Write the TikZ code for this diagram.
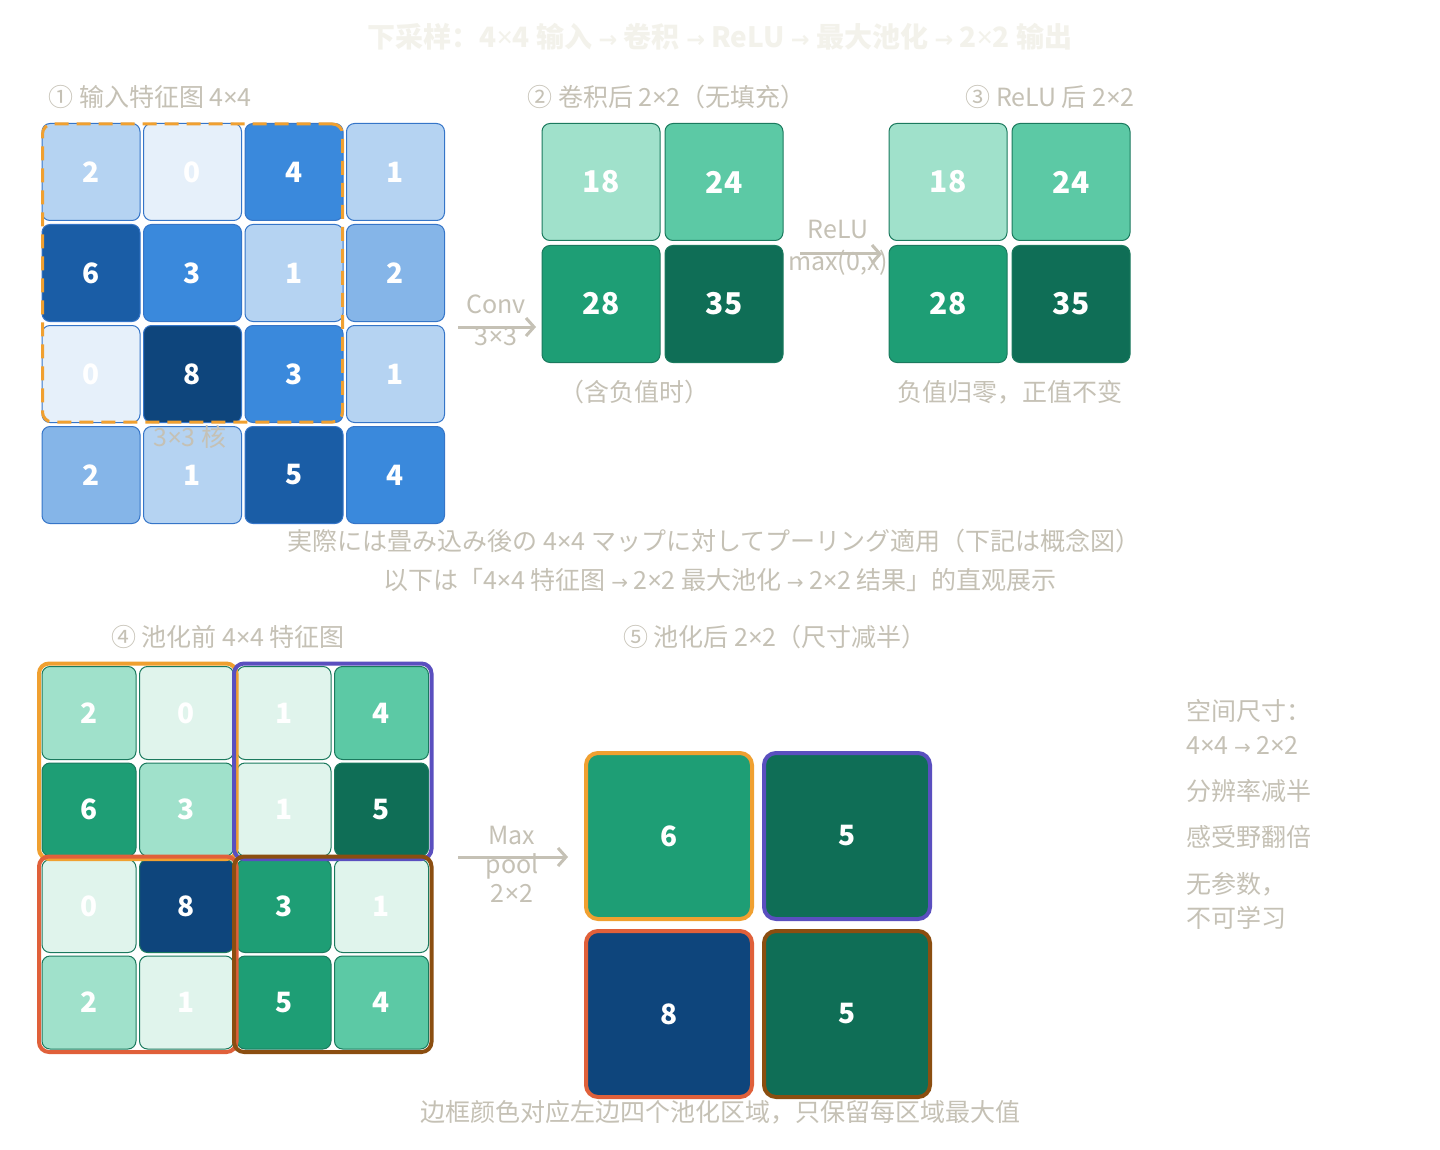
\documentclass[tikz,border=0pt]{standalone}
\usepackage{fontspec}
\setmainfont{Noto Sans CJK SC}
\newfontfamily\jpfont{Noto Sans CJK JP}
\newfontfamily\latinfont{Noto Sans}
\newfontfamily\symfont{DejaVu Sans}
\newcommand{\tms}{{\latinfont ×}}
\newcommand{\rarr}{{\symfont\scalebox{0.8}{→}}}
\usepackage{tikz}
\usetikzlibrary{
	arrows.meta,
	positioning,
	fit
}

\definecolor{txtgray}{HTML}{C5C1B5}
\definecolor{ttlgray}{HTML}{F3F2EB}
\definecolor{blueA}{HTML}{E6F0FA}
\definecolor{blueB}{HTML}{B5D3F2}
\definecolor{blueC}{HTML}{85B5E8}
\definecolor{blueD}{HTML}{3A89DC}
\definecolor{blueE}{HTML}{1A5DA6}
\definecolor{blueF}{HTML}{0E457C}
\definecolor{blueline}{HTML}{3575C8}
\definecolor{greenA}{HTML}{E0F4EC}
\definecolor{greenB}{HTML}{A0E1CB}
\definecolor{greenC}{HTML}{5CC9A5}
\definecolor{greenD}{HTML}{1E9E75}
\definecolor{greenE}{HTML}{0F6E56}
\definecolor{greenline}{HTML}{1B7A5E}
\definecolor{kernorange}{HTML}{F0A030}
\definecolor{regpurple}{HTML}{5A4FBF}
\definecolor{regred}{HTML}{E0603A}
\definecolor{regbrown}{HTML}{8B4E10}

\begin{document}
\begin{tikzpicture}[x=0.5pt, y=-0.5pt,
				incell/.style={
					rectangle, draw=blueline, rounded corners=4pt, line width=0.5pt,
					minimum width=49pt, minimum height=48.5pt, inner sep=0pt,
					text=white, font=\fontsize{14}{14}\selectfont\bfseries
				},
				convcell/.style={
					incell, draw=greenline,
					minimum width=59pt, minimum height=58.5pt,
					font=\fontsize{15}{15}\selectfont\bfseries
				},
				poolcell/.style={
					incell, draw=greenline,
					minimum width=47pt, minimum height=46.5pt
				},
				outcell/.style={
					incell, line width=2pt, rounded corners=6pt,
					minimum width=83pt, minimum height=83pt
				},
				region/.style={
					rectangle, draw, line width=2pt, rounded corners=5pt, inner sep=1.25pt
				},
				kernel/.style={
					rectangle, draw=kernorange, line width=1.5pt, rounded corners=5pt,
					dash pattern=on 7pt off 4pt, inner sep=-0.5pt
				},
				label/.style={
					text=txtgray, font=\fontsize{12.5}{15}\selectfont, inner sep=0pt
				},
				arrow/.style={-{Straight Barb[length=4pt,width=9pt]}, line width=1.5pt, draw=txtgray},
				]
				
				\fill[white] (0,0) rectangle (1440,1150);
				\useasboundingbox (0,0) rectangle (1440,1150);
				
				\node[font=\fontsize{14}{16}\selectfont\bfseries, text=ttlgray] (title) at (720,37)
					{下采样：4\tms4 输入 \rarr{} 卷积 \rarr{} ReLU \rarr{} 最大池化 \rarr{} 2\tms2 输出};
				
				%input 4x4
				\node[label, anchor=west] (intitle) at (48,97) {① 输入特征图 4\tms4};
				\node[incell, fill=blueB] (in11) at (91,172) {2};
				\node[incell, fill=blueA, right=1.25pt of in11] (in12) {0};
				\node[incell, fill=blueD, right=1.25pt of in12] (in13) {4};
				\node[incell, fill=blueB, right=1.25pt of in13] (in14) {1};
				\node[incell, fill=blueE, below=1.5pt of in11] (in21) {6};
				\node[incell, fill=blueD, right=1.25pt of in21] (in22) {3};
				\node[incell, fill=blueB, right=1.25pt of in22] (in23) {1};
				\node[incell, fill=blueC, right=1.25pt of in23] (in24) {2};
				\node[incell, fill=blueA, below=1.5pt of in21] (in31) {0};
				\node[incell, fill=blueF, right=1.25pt of in31] (in32) {8};
				\node[incell, fill=blueD, right=1.25pt of in32] (in33) {3};
				\node[incell, fill=blueB, right=1.25pt of in33] (in34) {1};
				\node[incell, fill=blueC, below=1.5pt of in31] (in41) {2};
				\node[incell, fill=blueB, right=1.25pt of in41] (in42) {1};
				\node[incell, fill=blueE, right=1.25pt of in42] (in43) {5};
				\node[incell, fill=blueD, right=1.25pt of in43] (in44) {4};
				\node[kernel, fit=(in11)(in33)] (kern) {};
				\node[label] (kernlabel) at (190,437) {3\tms3 核};
				
				%conv
				\coordinate (convS) at (458,327);
				\coordinate (convE) at (536,327);
				\draw[arrow] (convS) -- (convE);
				\node[label] (convlabel) at (496,304) {Conv};
				\node[label] (convsize) at (496,337) {3\tms3};
				
				\node[label, anchor=west] (cvtitle) at (527,97) {② 卷积后 2\tms2（无填充）};
				\node[convcell, fill=greenB] (cv11) at (601,182) {18};
				\node[convcell, fill=greenC, right=2pt of cv11] (cv12) {24};
				\node[convcell, fill=greenD, below=2pt of cv11] (cv21) {28};
				\node[convcell, fill=greenE, right=2pt of cv21] (cv22) {35};
				\node[label] (cvnote) at (634,392) {（含负值时）};
				
				%relu
				\coordinate (reluS) at (800,254);
				\coordinate (reluE) at (882,254);
				\draw[arrow] (reluS) -- (reluE);
				\node[label] (relulabel) at (838,230) {ReLU};
				\node[label] (relufunc) at (838,263) {max(0,x)};
				
				\node[label, anchor=east] (rltitle) at (1135,97) {③ ReLU 后 2\tms2};
				\node[convcell, fill=greenB] (rl11) at (948,182) {18};
				\node[convcell, fill=greenC, right=2pt of rl11] (rl12) {24};
				\node[convcell, fill=greenD, below=2pt of rl11] (rl21) {28};
				\node[convcell, fill=greenE, right=2pt of rl21] (rl22) {35};
				\node[label] (rlnote) at (1010,392) {负值归零，正值不变};
				
				%middle notes
				\node[label, font=\fontsize{12.5}{15}\selectfont\jpfont] (jpnote) at (714,541)
					{実際には畳み込み後の 4\tms4 マップに対してプーリング適用（下記は概念図）};
				\node[label] (cnnote) at (720,580) {以下は「4\tms4 特征图 \rarr{} 2\tms2 最大池化 \rarr{} 2\tms2 结果」的直观展示};
				
				%before pooling
				\node[label] (pbtitle) at (228,637) {④ 池化前 4\tms4 特征图};
				\node[poolcell, fill=greenB] (pb11) at (89,713) {2};
				\node[poolcell, fill=greenA, right=1.25pt of pb11] (pb12) {0};
				\node[poolcell, fill=greenA, right=1.25pt of pb12] (pb13) {1};
				\node[poolcell, fill=greenC, right=1.25pt of pb13] (pb14) {4};
				\node[poolcell, fill=greenD, below=1.25pt of pb11] (pb21) {6};
				\node[poolcell, fill=greenB, right=1.25pt of pb21] (pb22) {3};
				\node[poolcell, fill=greenA, right=1.25pt of pb22] (pb23) {1};
				\node[poolcell, fill=greenE, right=1.25pt of pb23] (pb24) {5};
				\node[poolcell, fill=greenA, below=1.25pt of pb21] (pb31) {0};
				\node[poolcell, fill=blueF, right=1.25pt of pb31] (pb32) {8};
				\node[poolcell, fill=greenD, right=1.25pt of pb32] (pb33) {3};
				\node[poolcell, fill=greenA, right=1.25pt of pb33] (pb34) {1};
				\node[poolcell, fill=greenB, below=1.25pt of pb31] (pb41) {2};
				\node[poolcell, fill=greenA, right=1.25pt of pb41] (pb42) {1};
				\node[poolcell, fill=greenD, right=1.25pt of pb42] (pb43) {5};
				\node[poolcell, fill=greenC, right=1.25pt of pb43] (pb44) {4};
				\node[region, draw=kernorange, fit=(pb11)(pb22)] (regA) {};
				\node[region, draw=regpurple, fit=(pb13)(pb24)] (regB) {};
				\node[region, draw=regred, fit=(pb31)(pb42)] (regC) {};
				\node[region, draw=regbrown, fit=(pb33)(pb44)] (regD) {};
				
				%pooling
				\coordinate (poolS) at (458,857);
				\coordinate (poolE) at (568,857);
				\draw[arrow] (poolS) -- (poolE);
				\node[label] (poollabel) at (512,835) {Max};
				\node[label] (poolword) at (512,866) {pool};
				\node[label] (poolsize) at (512,893) {2\tms2};
				
				%after pooling
				\node[label] (potitle) at (775,637) {⑤ 池化后 2\tms2（尺寸减半）};
				\node[outcell, fill=greenD, draw=kernorange] (po11) at (669,836) {6};
				\node[outcell, fill=greenE, draw=regpurple, right=4pt of po11] (po12) {5};
				\node[outcell, fill=blueF, draw=regred, below=4pt of po11] (po21) {8};
				\node[outcell, fill=greenE, draw=regbrown, right=4pt of po21] (po22) {5};
				\node[label] (ponote) at (720,1112) {边框颜色对应左边四个池化区域，只保留每区域最大值};
				
				%side notes
				\node[label, anchor=west] (side1) at (1186,711) {空间尺寸：};
				\node[label, anchor=west] (side2) at (1186,745) {4\tms4 \rarr{} 2\tms2};
				\node[label, anchor=west] (side3) at (1186,791) {分辨率减半};
				\node[label, anchor=west] (side4) at (1186,837) {感受野翻倍};
				\node[label, anchor=west] (side5) at (1186,884) {无参数，};
				\node[label, anchor=west] (side6) at (1186,918) {不可学习};
			\end{tikzpicture}
\end{document}
